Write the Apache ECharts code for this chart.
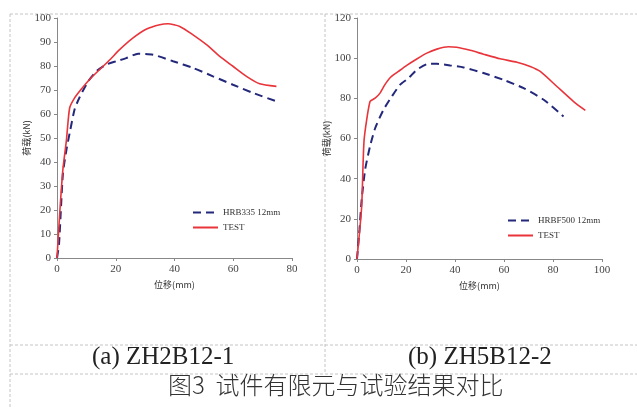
<!DOCTYPE html>
<html><head><meta charset="utf-8">
<script src="https://cdn.jsdelivr.net/npm/echarts@6/dist/echarts.min.js"></script>
<style>html,body{margin:0;padding:0;background:#fff}#c{width:637px;height:407px}</style>
</head><body><div id="c"></div>
<script>
// Left chart (a) ZH2B12-1
const leftFemX = [0, 0.7, 2, 3.2, 4.3, 6, 7.7, 10.6, 13.4, 16.8, 20.2, 23.6, 27.6, 32.7, 39.5, 46.3, 53.1, 59.9, 66.7, 74.7];
const leftFemY = [0, 6, 35, 45, 52, 62, 67, 73.6, 77.8, 80.6, 82, 83.3, 85.1, 84.7, 82, 79.2, 75.7, 72.2, 68.8, 65.3];
const leftTestX = [0, 1, 2, 3.2, 4.3, 6, 8.3, 11, 14.5, 18, 21.3, 25.9, 30.5, 35, 37.8, 41.8, 46.3, 50.9, 55.4, 59.9, 64.5, 69, 74.7];
const leftTestY = [0, 20, 36.8, 49, 62.5, 66.7, 70.4, 74.3, 78.5, 82.6, 86.8, 91.7, 95.4, 97.2, 97.6, 96.5, 93, 88.9, 84, 79.9, 75.7, 72.6, 71.5];
// Right chart (b) ZH5B12-2
const rightFemX = [0, 1, 1.9, 3.3, 5.3, 7.4, 10.8, 14.2, 17.6, 21, 24.4, 29.2, 32.6, 38, 43.5, 51.6, 59.8, 68, 76.2, 84.3];
const rightFemY = [0, 14.5, 29.4, 44.4, 56, 65.1, 74.3, 80.9, 86.8, 90, 94.2, 97.2, 97.2, 96.4, 95.4, 92.6, 89.2, 85.1, 79.3, 71];
const rightTestX = [0, 1.9, 2.9, 5.3, 7.4, 9.4, 11.4, 13.8, 16.9, 20.3, 24.4, 28.5, 32.6, 37.3, 40.7, 46.2, 51.6, 58.4, 65.3, 70.7, 74.8, 81.6, 88.4, 93.2];
const rightTestY = [0, 26, 59.3, 78.4, 80.1, 82.6, 86.8, 90.6, 93.4, 96.4, 99.6, 102.5, 104.5, 105.7, 105.4, 103.9, 102, 99.7, 98, 95.9, 93.4, 85.9, 78.4, 74];

const leftFemName = 'HRB335 12mm';
const rightFemName = 'HRBF500 12mm';
const testName = 'TEST';
const testNameB = 'TEST ';
const xName = '位移(mm)';
const yName = '荷载(kN)';
const captionA = '(a) ZH2B12-1';
const captionB = '(b) ZH5B12-2';
const figTitle = '图3  试件有限元与试验结果对比';

const zip = (xs, ys) => xs.map((x, i) => [x, ys[i]]);
const RED = '#e8343a', BLUE = '#23287a';
const serif = 'Liberation Serif';
const cjk = 'Noto Sans CJK SC';

function xAxis(idx, max) {
  return {
    gridIndex: idx, type: 'value', min: 0, max: max, interval: 20,
    name: xName, nameLocation: 'middle', nameGap: 22,
    nameTextStyle: { fontFamily: cjk, fontSize: 9, color: '#333' },
    axisLine: { lineStyle: { color: '#888', width: 1 } },
    axisTick: { show: true, length: 3, lineStyle: { color: '#888' } },
    axisLabel: { fontFamily: serif, fontSize: 11, color: '#444', margin: 6 },
    splitLine: { show: false }
  };
}
function yAxis(idx, max, interval) {
  return {
    gridIndex: idx, type: 'value', min: 0, max: max, interval: interval,
    name: yName, nameLocation: 'middle', nameGap: 26, nameRotate: 90,
    nameTextStyle: { fontFamily: cjk, fontSize: 9, color: '#333' },
    axisLine: { show: true, lineStyle: { color: '#888', width: 1 } },
    axisTick: { show: true, length: 3, lineStyle: { color: '#888' } },
    axisLabel: { fontFamily: serif, fontSize: 11, color: '#444', margin: 6 },
    splitLine: { show: false }
  };
}
function femSeries(name, data, idx) {
  return { name: name, type: 'line', xAxisIndex: idx, yAxisIndex: idx, data: data,
    symbol: 'none', smooth: 0.2, lineStyle: { color: BLUE, width: 2, type: [8, 5] }, itemStyle: { color: BLUE }, z: 3 };
}
function testSeries(name, data, idx) {
  return { name: name, type: 'line', xAxisIndex: idx, yAxisIndex: idx, data: data,
    symbol: 'none', smooth: 0.2, lineStyle: { color: RED, width: 1.6 }, itemStyle: { color: RED }, z: 4 };
}
function legendFor(names, left, top) {
  return {
    data: names, left: left, top: top, orient: 'vertical', itemWidth: 25, itemHeight: 8, itemGap: 6,
    itemStyle: { opacity: 0 },
    textStyle: { fontFamily: serif, fontSize: 9, color: '#333' }, selectedMode: false
  };
}
const dash = { stroke: '#c4c4c4', lineWidth: 1, lineDash: [3, 2] };
const chart = echarts.init(document.getElementById('c'));
chart.setOption({
  animation: false,
  backgroundColor: '#fff',
  grid: [
    { left: 57, right: 345, top: 18, bottom: 149 },
    { left: 357, right: 35, top: 18, bottom: 148 }
  ],
  xAxis: [xAxis(0, 80), xAxis(1, 100)],
  yAxis: [yAxis(0, 100, 10), yAxis(1, 120, 20)],
  legend: [
    legendFor([leftFemName, testName], 187, 203),
    legendFor([rightFemName, testNameB], 502, 211)
  ],
  series: [
    femSeries(leftFemName, zip(leftFemX, leftFemY), 0),
    testSeries(testName, zip(leftTestX, leftTestY), 0),
    femSeries(rightFemName, zip(rightFemX, rightFemY), 1),
    testSeries(testNameB, zip(rightTestX, rightTestY), 1)
  ],
  graphic: [
    { type: 'line', shape: { x1: 10, y1: 14, x2: 637, y2: 14 }, style: dash, silent: true },
    { type: 'line', shape: { x1: 10, y1: 14, x2: 10, y2: 407 }, style: dash, silent: true },
    { type: 'line', shape: { x1: 325, y1: 14, x2: 325, y2: 374 }, style: dash, silent: true },
    { type: 'line', shape: { x1: 10, y1: 345, x2: 637, y2: 345 }, style: dash, silent: true },
    { type: 'line', shape: { x1: 10, y1: 374, x2: 637, y2: 374 }, style: dash, silent: true },
    { type: 'text', left: 92, top: 345, style: { text: captionA, font: '25px "Liberation Serif"', fill: '#222' } },
    { type: 'text', left: 408, top: 345, style: { text: captionB, font: '25px "Liberation Serif"', fill: '#222' } },
    { type: 'text', left: 168, top: 373, style: { text: figTitle, font: '300 24px "Noto Sans CJK SC"', fill: '#333' } }
  ]
});
</script>
</body></html>
